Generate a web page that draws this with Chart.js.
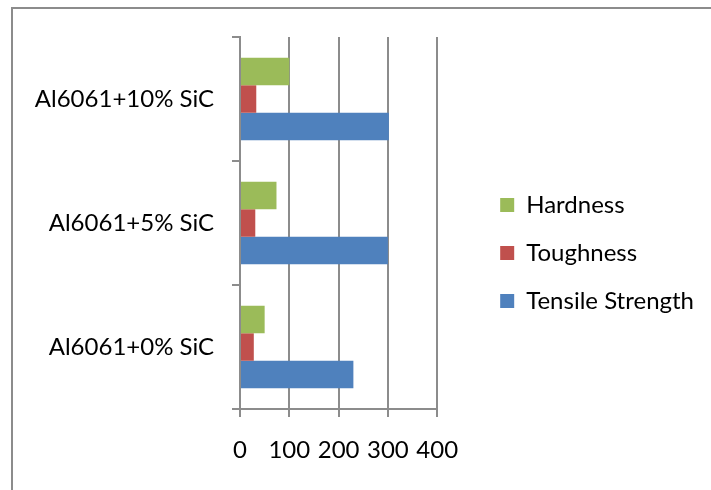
<!DOCTYPE html>
<html>
<head>
<meta charset="utf-8">
<script src="https://cdn.jsdelivr.net/npm/chart.js"></script>
<style>
  html, body { margin: 0; padding: 0; background: #fff; }
  #wrap { position: relative; width: 711px; height: 490px; overflow: hidden; }
  #frame {
    position: absolute; left: 11px; top: 7px; width: 760px; height: 560px;
    border-left: 2px solid #8c8c8c; border-top: 2px solid #8c8c8c;
    pointer-events: none;
  }
  canvas { position: absolute; left: 0; top: 0; }
</style>
</head>
<body>
<div id="wrap">
  <canvas id="chart" width="711" height="490"></canvas>
  <div id="frame"></div>
</div>
<script>
// categories, top to bottom as drawn
const categories = ["Al6061+10% SiC", "Al6061+5% SiC", "Al6061+0% SiC"];

// series values
const hardness = [100, 74, 50];
const toughness = [33, 31, 28];
const tensileStrength = [302, 300, 230];

const xTicks = [0, 100, 200, 300, 400];

const FONT = "Lato, 'Liberation Sans', sans-serif";
const FONT_SIZE = 24;

new Chart(document.getElementById("chart").getContext("2d"), {
  type: "bar",
  data: {
    labels: categories,
    datasets: [
      { label: "Hardness", data: hardness, backgroundColor: "#9BBB59" },
      { label: "Toughness", data: toughness, backgroundColor: "#C0504D" },
      { label: "Tensile Strength", data: tensileStrength, backgroundColor: "#4F81BD" },
    ],
  },
  options: {
    indexAxis: "y",
    responsive: false,
    animation: false,
    devicePixelRatio: 1,
    categoryPercentage: 0.667,
    barPercentage: 1.0,
    layout: { padding: { left: 12, top: 37, right: 7, bottom: 21 } },
    plugins: {
      tooltip: { enabled: false },
      legend: {
        position: "right",
        maxWidth: 236,
        labels: {
          font: { family: FONT, size: FONT_SIZE },
          color: "#000",
          boxWidth: 14,
          boxHeight: 14,
          padding: 24,
        },
      },
    },
    scales: {
      x: {
        min: 0,
        max: 400,
        afterBuildTicks: (axis) => {
          axis.ticks = xTicks.map((v) => ({ value: v }));
        },
        afterFit: (axis) => { axis.height = 60; },
        grid: { color: "#8c8c8c", lineWidth: 2, tickLength: 8 },
        border: { color: "#8c8c8c", width: 2 },
        ticks: {
          font: { family: FONT, size: FONT_SIZE },
          color: "#000",
          padding: 19,
          maxRotation: 0,
        },
      },
      y: {
        afterFit: (axis) => { axis.width = 228; },
        grid: {
          offset: true,
          drawOnChartArea: false,
          color: "#8c8c8c",
          lineWidth: 2,
          tickLength: 8,
        },
        border: { color: "#8c8c8c", width: 2 },
        ticks: {
          font: { family: FONT, size: FONT_SIZE },
          color: "#000",
          padding: 18,
        },
      },
      // empty gap between the plot and the legend
      gap: {
        type: "linear",
        position: "right",
        afterFit: (axis) => { axis.width = 39; },
        grid: { display: false },
        border: { display: false },
        ticks: { display: false },
      },
    },
  },
});
</script>
</body>
</html>
